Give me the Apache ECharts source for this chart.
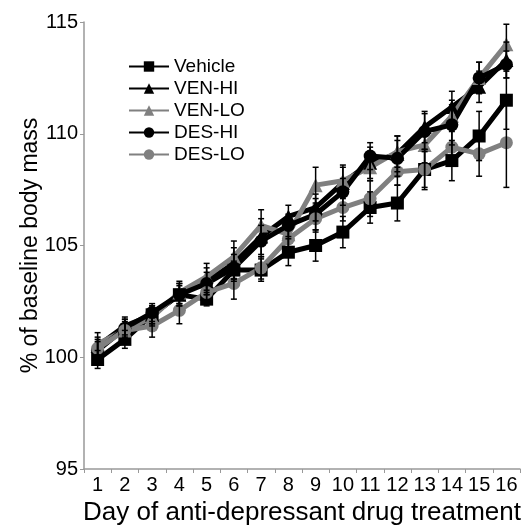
<!DOCTYPE html>
<html>
<head>
<meta charset="utf-8">
<script src="https://cdn.jsdelivr.net/npm/echarts@6/dist/echarts.min.js"></script>
<style>
  html, body { margin: 0; padding: 0; background: #fff; }
  #chartBox { width: 521px; height: 526px; }
</style>
</head>
<body>
<div id="chartBox"></div>
<script>
// days on the x axis
const days = ['1', '2', '3', '4', '5', '6', '7', '8', '9', '10', '11', '12', '13', '14', '15', '16'];

// mean % of baseline body mass
const vehicle = [99.9, 100.8, 101.9, 102.8, 102.6, 103.9, 103.9, 104.7, 105.0, 105.6, 106.7, 106.9, 108.4, 108.8, 109.9, 111.5];
const venHi = [100.5, 101.4, 101.9, 102.8, 103.4, 104.2, 105.4, 106.3, 106.7, 107.8, 108.7, 109.1, 110.3, 111.2, 112.1, 113.3];
const venLo = [100.6, 101.2, 101.8, 102.9, 103.6, 104.5, 105.9, 105.5, 107.7, 107.9, 108.5, 109.2, 109.5, 110.8, 112.5, 114.0];
const desHi = [100.3, 101.3, 102.0, 102.8, 103.3, 104.0, 105.2, 105.9, 106.4, 107.4, 109.0, 108.9, 110.1, 110.4, 112.5, 113.1];
const desLo = [100.4, 101.2, 101.4, 102.1, 102.9, 103.3, 104.0, 105.3, 106.2, 106.7, 107.1, 108.3, 108.4, 109.4, 109.1, 109.6];

// error bar half-lengths (SEM)
const vehicleErr = [0.4, 0.4, 0.4, 0.4, 0.3, 0.4, 0.5, 0.6, 0.7, 0.7, 0.7, 0.8, 0.9, 0.9, 1.1, 1.3];
const venHiErr = [0.4, 0.4, 0.4, 0.5, 0.6, 0.7, 0.8, 0.5, 0.6, 0.7, 0.7, 0.8, 0.7, 0.7, 0.7, 0.8];
const venLoErr = [0.5, 0.4, 0.4, 0.5, 0.6, 0.7, 0.7, 0.8, 0.8, 0.7, 0.6, 0.7, 0.8, 0.7, 0.7, 0.9];
const desHiErr = [0.4, 0.4, 0.4, 0.5, 0.5, 0.6, 0.7, 0.5, 0.7, 0.6, 0.6, 0.8, 0.8, 0.9, 0.7, 0.6];
const desLoErr = [0.4, 0.5, 0.5, 0.6, 0.5, 0.7, 0.5, 0.6, 0.6, 0.6, 0.8, 0.6, 0.8, 0.8, 1.0, 2.0];

// y axis ticks
const yTicks = [95, 100, 105, 110, 115];

const groups = [
  { name: 'Vehicle', data: vehicle, err: vehicleErr, symbol: 'rect', color: '#000000', size: 13 },
  { name: 'VEN-HI', data: venHi, err: venHiErr, symbol: 'triangle', color: '#000000', size: 14 },
  { name: 'VEN-LO', data: venLo, err: venLoErr, symbol: 'triangle', color: '#808080', size: 14 },
  { name: 'DES-HI', data: desHi, err: desHiErr, symbol: 'circle', color: '#000000', size: 13 },
  { name: 'DES-LO', data: desLo, err: desLoErr, symbol: 'circle', color: '#808080', size: 13 }
];

const font = 'Liberation Sans, Arial, sans-serif';

let myChart = echarts.init(document.getElementById('chartBox'));

let series = [];
groups.forEach(function (g) {
  // error bars for this group
  series.push({
    type: 'custom',
    silent: true,
    z: 3,
    data: g.data.map(function (v, i) {
      return [i, v - g.err[i], v + g.err[i]];
    }),
    renderItem: function (params, api) {
      let lo = api.coord([api.value(0), api.value(1)]);
      let hi = api.coord([api.value(0), api.value(2)]);
      let hw = 3;
      let style = { stroke: '#000', lineWidth: 1.5 };
      return {
        type: 'group',
        children: [
          { type: 'line', shape: { x1: lo[0], y1: lo[1], x2: hi[0], y2: hi[1] }, style: style },
          { type: 'line', shape: { x1: lo[0] - hw, y1: lo[1], x2: lo[0] + hw, y2: lo[1] }, style: style },
          { type: 'line', shape: { x1: hi[0] - hw, y1: hi[1], x2: hi[0] + hw, y2: hi[1] }, style: style }
        ]
      };
    }
  });
  series.push({
    name: g.name,
    type: 'line',
    z: 2,
    data: g.data,
    symbol: g.symbol,
    symbolSize: g.size,
    showAllSymbol: true,
    color: g.color,
    lineStyle: { color: g.color, width: 5 },
    itemStyle: { color: g.color, borderWidth: 0 },
    emphasis: { disabled: true },
    animation: false
  });
});

myChart.setOption({
  animation: false,
  grid: { left: 84, right: 1, top: 22, bottom: 57, outerBoundsMode: 'none', containLabel: false },
  legend: {
    data: groups.map(function (g) { return g.name; }),
    orient: 'vertical',
    left: 123,
    top: 52,
    itemWidth: 40,
    itemHeight: 13,
    itemGap: 3,
    textStyle: { fontFamily: font, fontSize: 19, color: '#000' }
  },
  xAxis: {
    type: 'category',
    data: days,
    boundaryGap: true,
    name: 'Day of anti-depressant drug treatment',
    nameLocation: 'middle',
    nameGap: 31,
    nameMoveOverlap: false,
    nameTextStyle: { fontFamily: font, fontSize: 26, color: '#000' },
    axisLine: { lineStyle: { color: '#999', width: 1.5 } },
    axisTick: { show: true, length: 4, lineStyle: { color: '#999' } },
    axisLabel: { fontFamily: font, fontSize: 20, color: '#000', margin: 6, interval: 0 },
    splitLine: { show: false }
  },
  yAxis: {
    type: 'value',
    min: yTicks[0],
    max: yTicks[yTicks.length - 1],
    interval: 5,
    name: '% of baseline body mass',
    nameLocation: 'middle',
    nameGap: 42,
    nameMoveOverlap: false,
    nameTextStyle: { fontFamily: font, fontSize: 23, color: '#000' },
    axisLine: { show: true, lineStyle: { color: '#999', width: 1.5 } },
    axisTick: { show: true, length: 4, lineStyle: { color: '#999' } },
    axisLabel: { fontFamily: font, fontSize: 20, color: '#000', margin: 6 },
    splitLine: { show: false }
  },
  series: series
});
</script>
</body>
</html>
